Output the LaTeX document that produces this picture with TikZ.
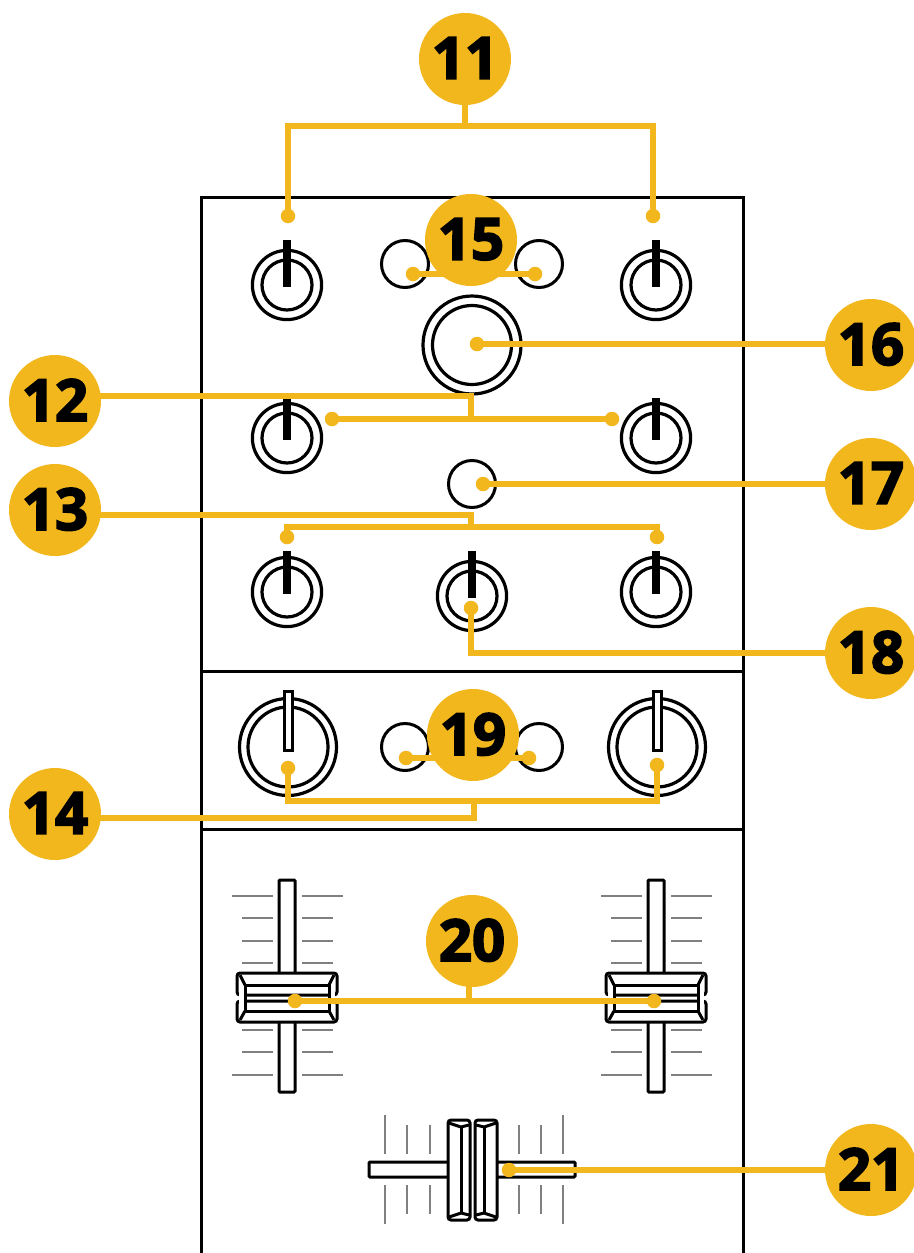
\documentclass[tikz,border=0pt]{standalone}
\usepackage{fontspec}
\setmainfont{Open Sans}[BoldFeatures={FakeBold=3}]
\definecolor{acc}{HTML}{F2B71D}
\definecolor{tick}{HTML}{808080}
\tikzset{x=1pt,y=-1pt,
 badge/.style={circle,fill=acc,minimum size=92pt,inner sep=0pt,font=\fontsize{58}{58}\selectfont\bfseries},
 ln/.style={draw=black,line width=3pt},
 lead/.style={draw=acc,line width=5.4pt},
 dotn/.style={circle,fill=acc,minimum size=14.5pt,inner sep=0pt},
 tk/.style={draw=tick,line width=1.5pt},
 tkb/.style={draw=tick,line width=2.4pt}}
\newcommand{\bd}[1]{\raisebox{2pt}{#1}}
\newcommand{\knob}[3]{%
 \draw[ln,line width=3.2pt] (#1,#2) circle (34.6);
 \draw[ln,line width=3.2pt] (#1,#2) circle (25);
 \draw[black,line width=7.5pt] (#1,#3) -- (#1,#2+2);}
\newcommand{\bigknob}[2]{%
 \draw[ln,line width=3.2pt] (#1,#2) circle (48.5);
 \draw[ln,line width=3.2pt] (#1,#2) circle (40);
 \draw[ln,fill=white] (#1-4,#2-56) rectangle (#1+4,#2+3);}
\newcommand{\vfader}[1]{%
 \foreach \y in {896,1075}{
  \draw[tkb] (#1-55,\y) -- (#1-14,\y); \draw[tkb] (#1+15,\y) -- (#1+56,\y);}
 \foreach \y in {918,941,963,1030,1052}{
  \draw[tk] (#1-45,\y) -- (#1-14,\y); \draw[tk] (#1+15,\y) -- (#1+46,\y);}
 \draw[ln,fill=white,rounded corners=1pt] (#1-8,880) rectangle (#1+8,1092);
 \fill[white] (#1-40,985) rectangle (#1+41,1011);
 \draw[ln,fill=white,rounded corners=3pt] (#1-50,973) -- (#1+50,973) -- (#1+50,995) -- (#1+42,995) -- (#1-42,995) -- (#1-50,995) -- cycle;
 \draw[ln,fill=white,rounded corners=3pt] (#1-50,1001) -- (#1+50,1001) -- (#1+50,1022) -- (#1-50,1022) -- cycle;
 \fill[white] (#1-48,993) rectangle (#1-42,1003);
 \fill[white] (#1+42,993) rectangle (#1+48,1003);
 \draw[ln] (#1-42,985) -- (#1+42,985) (#1-42,1011) -- (#1+42,1011);
 \draw[ln] (#1-42,985) -- (#1-42,1011) (#1+42,985) -- (#1+42,1011);
 \draw[ln] (#1-47,975) -- (#1-42,985) (#1+47,975) -- (#1+42,985);
 \draw[ln] (#1-42,1011) -- (#1-47,1020) (#1+42,1011) -- (#1+47,1020);}
\begin{document}
\begin{tikzpicture}
\useasboundingbox (0,0) rectangle (913,1253);
\fill[white] (0,0) rectangle (913,1253);
% panel
\draw[ln] (201,1253) -- (201,197) -- (743,197) -- (743,1253);
\draw[ln] (201,671) -- (743,671) (201,829) -- (743,829);
% knobs
\knob{287}{285}{240}\knob{656}{285}{240}
\knob{287}{438}{398}\knob{656}{438}{398}
\knob{287}{592}{551}\knob{472}{596}{551}\knob{656}{592}{551}
\bigknob{288}{747}\bigknob{657}{747}
\draw[ln,line width=3.2pt] (472,345) circle (49);
\draw[ln,line width=3.2pt] (472,345) circle (39.5);
\draw[ln] (405,264) circle (23.5) (539,264) circle (23.5);
\draw[ln] (405,747) circle (23.5) (539,747) circle (23.5);
\draw[ln] (472,484) circle (23.5);
% faders
\vfader{287}\vfader{656}
\foreach \x in {385,563}{
 \draw[tkb] (\x,1115) -- (\x,1154); \draw[tkb] (\x,1185) -- (\x,1224);}
\foreach \x in {407,430,519,541}{
 \draw[tk] (\x,1125) -- (\x,1154); \draw[tk] (\x,1185) -- (\x,1214);}
\draw[ln,fill=white,rounded corners=1pt] (369,1162) rectangle (575,1177);
\fill[white] (461,1140) rectangle (484,1200);
\draw[ln,fill=white,rounded corners=3pt] (448,1120) rectangle (470,1220);
\draw[ln,fill=white,rounded corners=3pt] (475,1120) rectangle (497,1220);
\draw[ln] (461,1127) -- (461,1213) (484,1127) -- (484,1213);
\draw[ln] (449,1123) -- (461,1127) -- (469,1125) (476,1125) -- (484,1127) -- (496,1123);
\draw[ln] (449,1217) -- (461,1213) -- (469,1215) (476,1215) -- (484,1213) -- (496,1217);
% anchors
\foreach \n/\x/\y in {d11a/288/216,d11b/653/216,d15a/413/274,d15b/535/274,d16/477/344,d12a/332/419,d12b/612/419,d17/483/484,d13a/287/537,d13b/657/537,d18/471/608,d19a/406/758,d19b/529/758,d14a/288/768,d14b/657/765,d20a/295/1001,d20b/654/1001,d21/509/1170}
 \node[dotn] (\n) at (\x,\y) {};
\coordinate (c11a) at (288,126); \coordinate (c11b) at (653,126); \coordinate (c11) at (465,126);
\coordinate (c12a) at (471,396); \coordinate (c12b) at (471,419);
\coordinate (c13a) at (471,515); \coordinate (c13b) at (471,527);
\coordinate (c13c) at (287,527); \coordinate (c13d) at (657,527);
\coordinate (c18) at (471,653);
\coordinate (c14a) at (288,801); \coordinate (c14b) at (657,801);
\coordinate (c14c) at (474,818); \coordinate (c14d) at (474,801);
\coordinate (c20) at (469,1001);
\coordinate (p11) at (465,59); \coordinate (p15) at (471,240); \coordinate (p16) at (871,344);
\coordinate (p12) at (55,396); \coordinate (p13) at (55,515); \coordinate (p17) at (871,484);
\coordinate (p18) at (871,653); \coordinate (p14) at (55,818); \coordinate (p20) at (469,941);
\coordinate (p21) at (871,1170);
% leaders
\draw[lead] (p11) -- (c11);
\draw[lead] (d11a.center) -- (c11a) -- (c11b) -- (d11b.center);
\draw[lead] (d15a.center) -- (d15b.center);
\draw[lead] (d16.center) -- (p16);
\draw[lead] (p12) -- (c12a) -- (c12b);
\draw[lead] (d12a.center) -- (d12b.center);
\draw[lead] (d17.center) -- (p17);
\draw[lead] (p13) -- (c13a) -- (c13b);
\draw[lead] (d13a.center) -- (c13c) -- (c13d) -- (d13b.center);
\draw[lead] (d18.center) -- (c18) -- (p18);
\draw[lead] (d19a.center) -- (d19b.center);
\draw[lead] (d14a.center) -- (c14a) -- (c14b) -- (d14b.center);
\draw[lead] (p14) -- (c14c) -- (c14d);
\draw[lead] (p20) -- (c20);
\draw[lead] (d20a.center) -- (d20b.center);
\draw[lead] (d21.center) -- (p21);
% badges
\node[badge] (b11) at (465,59) {\bd{11}};
\node[badge] (b15) at (471,240) {\bd{15}};
\node[badge] (b16) at (871,345) {\bd{16}};
\node[badge] (b12) at (55,401) {\bd{12}};
\node[badge] (b13) at (55,510) {\bd{13}};
\node[badge] (b17) at (871,484) {\bd{17}};
\node[badge] (b18) at (871,653) {\bd{18}};
\node[badge] (b19) at (473,735) {\bd{19}};
\node[badge] (b14) at (55,814) {\bd{14}};
\node[badge] (b20) at (472,941) {\bd{20}};
\node[badge] (b21) at (871,1170) {\bd{21}};
\end{tikzpicture}
\end{document}
